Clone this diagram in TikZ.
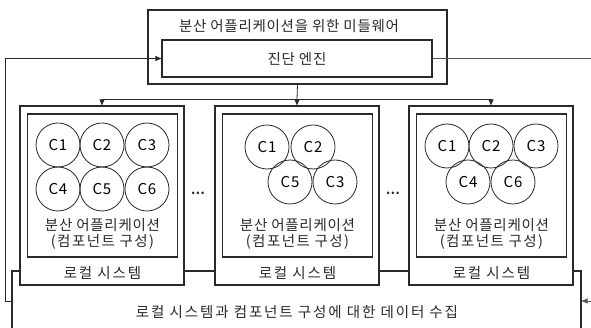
\documentclass[tikz,border=0pt]{standalone}
\usepackage{fontspec}
\setmainfont{Noto Sans CJK KR}[LetterSpace=5]
\newfontfamily\wideA{Noto Sans CJK KR}[LetterSpace=10]
\newfontfamily\wideB{Noto Sans CJK KR}[LetterSpace=13]
\usetikzlibrary{arrows.meta}
\definecolor{ink}{HTML}{2A2A2A}
\definecolor{thin}{HTML}{555555}
\tikzset{
  box/.style={draw=ink, line width=1.1pt, fill=white, inner sep=0pt},
  comp/.style={draw=ink, line width=0.8pt, circle, minimum size=44pt, inner sep=0pt, font=\fontsize{15}{15}\selectfont},
  txt/.style={font=\fontsize{14.5}{15}\selectfont, inner sep=0pt, text=ink},
  conn/.style={draw=ink, line width=0.8pt},
  arr/.style={conn, -{Triangle[length=6pt,width=5pt]}},
}
\begin{document}
\begin{tikzpicture}[x=1pt,y=-1pt]
\useasboundingbox (0,0) rectangle (591,328);
\clip (0,0) rectangle (591,328);
\fill[white] (0,0) rectangle (591,328);
% bottom collection box
\node[box, minimum width=569pt, minimum height=60pt] (bot) at (296.5,301) {};
\node[txt, font=\wideB\fontsize{14.5}{15}\selectfont] (bottxt) at (297,312) {로컬 시스템과 컴포넌트 구성에 대한 데이터 수집};
% middleware
\node[box, minimum width=299pt, minimum height=74pt] (mw) at (297.5,47) {};
\node[txt] (mwtitle) at (289,26) {분산 어플리케이션을 위한 미들웨어};
\node[box, minimum width=270pt, minimum height=37pt] (eng) at (297,58.5) {};
\node[txt] (engtxt) at (297,59) {진단 엔진};
% local systems
\foreach \n/\cx in {1/102,2/297,3/491}{
  \node[box, minimum width=164pt, minimum height=179pt] (L\n) at (\cx,195.5) {};
  \node[box, minimum width=150pt, minimum height=143pt] (I\n) at (\cx+0.5,185.5) {};
  \node[txt] (app\n) at (\cx+0.5,225) {분산 어플리케이션};
  \node[txt, font=\wideA\fontsize{14.5}{15}\selectfont] (cfg\n) at (\cx+0.5,242) {(컴포넌트 구성)};
  \node[txt, font=\wideB\fontsize{14.5}{15}\selectfont] (loc\n) at (\cx+0.5,273) {로컬 시스템};
}
% components
\node[comp] (a1) at (58,145) {C1};
\node[comp] (a2) at (102,145) {C2};
\node[comp] (a3) at (147,145) {C3};
\node[comp] (a4) at (58,189) {C4};
\node[comp] (a5) at (102,189) {C5};
\node[comp] (a6) at (147,189) {C6};
\node[comp] (b1) at (267,147) {C1};
\node[comp] (b2) at (313,147) {C2};
\node[comp] (b5) at (290,182) {C5};
\node[comp] (b3) at (335,182) {C3};
\node[comp] (c1) at (447,146) {C1};
\node[comp] (c2) at (491,146) {C2};
\node[comp] (c3) at (536,146) {C3};
\node[comp] (c4) at (468,182) {C4};
\node[comp] (c6) at (513,182) {C6};
% dots
\node[txt, font=\bfseries\fontsize{12}{12}\selectfont] (d1) at (198,193) {...};
\node[txt, font=\bfseries\fontsize{12}{12}\selectfont] (d2) at (393,193) {...};
% connectors
\coordinate (j) at (297,99);
\draw[conn] (mw.south) -- (j);
\draw[arr] (j) -- (L2.north);
\draw[arr] (j) -| (L1.north);
\draw[arr] (j) -| (L3.north);
\coordinate (fl) at (5,301);
\draw[arr] (bot.west) -- (fl) |- (eng.west);
\coordinate (fr) at (600,301);
\draw[arr, draw=thin] (eng.east) -| (fr) -- (bot.east);
\end{tikzpicture}
\end{document}
